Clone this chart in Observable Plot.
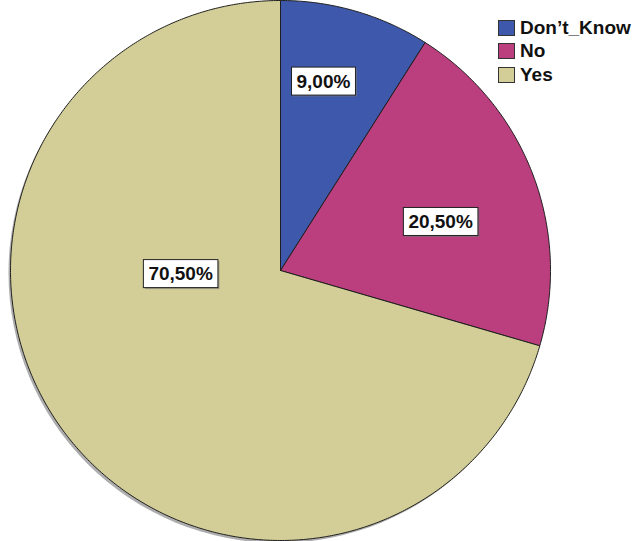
<!DOCTYPE html>
<html>
<head>
<meta charset="utf-8">
<script src="https://cdn.jsdelivr.net/npm/d3@7"></script>
<script src="https://cdn.jsdelivr.net/npm/@observablehq/plot@0.6"></script>
<style>
  body { margin: 0; background: #fff; }
  #wrap { position: relative; width: 638px; height: 541px; }
  .legend { position: absolute; left: 498px; top: 16px; font: bold 19px "Liberation Sans", Arial, sans-serif; color: #111; }
  .legend .row { display: flex; align-items: center; height: 23.5px; }
  .legend .sw { width: 17px; height: 16px; box-sizing: border-box; border: 1px solid #333; margin-right: 5px; }
</style>
</head>
<body>
<div id="wrap"></div>
<script>
const categories = ["Don’t_Know", "No", "Yes"];
const percents = [9.0, 20.5, 70.5];
const labels = ["9,00%", "20,50%", "70,50%"];
const colors = ["#3E58AC", "#BB3F7F", "#D3CE97"];

// label anchor points in unit-circle coordinates (as placed in the original)
const labelX = [0.159, 0.593, -0.370];
const labelY = [0.700, 0.180, -0.013];

// Build slice outlines from the percentages (clockwise from 12 o'clock)
const total = d3.sum(percents);
const points = [];
let acc = 0;
categories.forEach((c, i) => {
  const a0 = acc / total * 2 * Math.PI;
  acc += percents[i];
  const a1 = acc / total * 2 * Math.PI;
  points.push({cat: c, x: 0, y: 0});
  const n = Math.max(2, Math.ceil((a1 - a0) / (Math.PI / 360)));
  for (let k = 0; k <= n; k++) {
    const a = a0 + (a1 - a0) * k / n;
    points.push({cat: c, x: Math.sin(a), y: Math.cos(a)});
  }
  points.push({cat: c, x: 0, y: 0});
});

const labelData = labels.map((t, i) => ({t, x: labelX[i], y: labelY[i]}));

const plot = Plot.plot({
  width: 638,
  height: 541,
  margin: 0,
  x: {domain: [-1, 1], range: [10, 550], axis: null},
  y: {domain: [-1, 1], range: [540, 0], axis: null},
  color: {domain: categories, range: colors},
  marks: [
    Plot.dot([{x: 0, y: 0}], {x: "x", y: "y", r: 270, fill: "#8a8a8a", fillOpacity: 0.7, stroke: "none", dx: -2, dy: 2.5}),
    Plot.line(points, {x: "x", y: "y", z: "cat", fill: "cat", stroke: "#1e1e1e", strokeWidth: 1, curve: "linear"}),
    Plot.text(labelData, {x: "x", y: "y", text: "t", fontSize: 19, fontWeight: "bold", fontFamily: "Liberation Sans, Arial, sans-serif", fill: "#111"})
  ]
});

const wrap = document.getElementById("wrap");
wrap.appendChild(plot);

// white framed boxes behind the percentage labels
const svg = d3.select(plot);
const textGroup = svg.select('g[aria-label="text"]');
const boxes = svg.insert("g", 'g[aria-label="text"]');
const sr = plot.getBoundingClientRect();
textGroup.selectAll("text").each(function() {
  const b = this.getBoundingClientRect();
  const padX = 5, padY = 3.5;
  const x = b.left - sr.left - padX, y = b.top - sr.top - padY;
  const w = b.width + 2 * padX, h = b.height + 2 * padY;
  boxes.append("rect").attr("x", x + 1.5).attr("y", y + 1.5).attr("width", w).attr("height", h).attr("fill", "#777").attr("opacity", 0.6);
  boxes.append("rect").attr("x", x).attr("y", y).attr("width", w).attr("height", h).attr("fill", "#fff").attr("stroke", "#222").attr("stroke-width", 1);
});

// legend
const legend = document.createElement("div");
legend.className = "legend";
categories.forEach((c, i) => {
  const row = document.createElement("div");
  row.className = "row";
  const sw = document.createElement("div");
  sw.className = "sw";
  sw.style.background = colors[i];
  const lab = document.createElement("span");
  lab.textContent = c;
  row.appendChild(sw);
  row.appendChild(lab);
  legend.appendChild(row);
});
wrap.appendChild(legend);
</script>
</body>
</html>
